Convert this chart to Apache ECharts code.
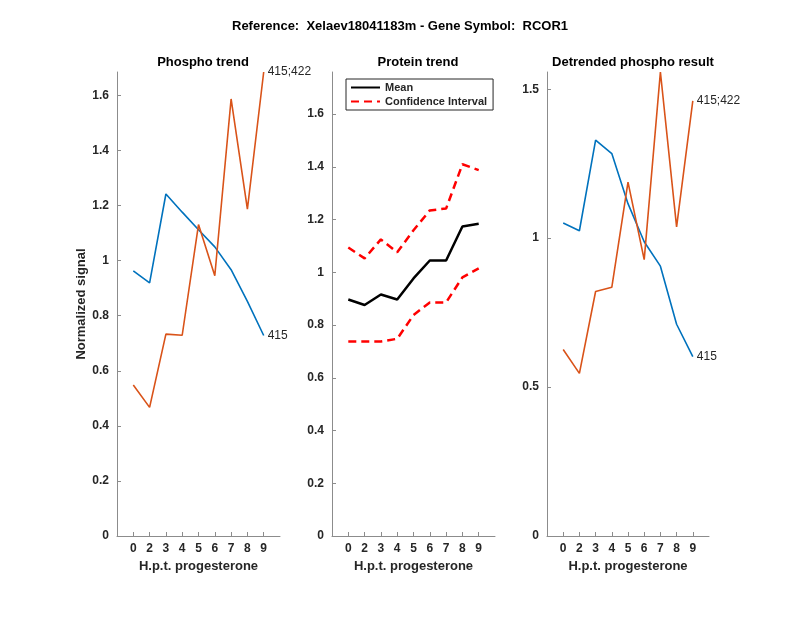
<!DOCTYPE html>
<html><head><meta charset="utf-8">
<script src="https://cdn.jsdelivr.net/npm/echarts@6/dist/echarts.min.js"></script>
<style>html,body{margin:0;padding:0;background:#fff}#c{width:800px;height:618px}</style>
</head><body><div id="c"></div>
<script>
const hours = ['0','2','3','4','5','6','7','8','9'];
const phosphoA = [0.963,0.919,1.242,1.176,1.112,1.050,0.967,0.852,0.728];   // 415
const phosphoB = [0.548,0.467,0.733,0.729,1.131,0.945,1.587,1.187,1.685];   // 415;422
const proteinMean = [0.897,0.876,0.916,0.897,0.977,1.045,1.045,1.174,1.184];
const proteinUpper = [1.094,1.053,1.125,1.076,1.160,1.235,1.242,1.410,1.388];
const proteinLower = [0.738,0.738,0.738,0.748,0.838,0.886,0.886,0.981,1.015];
const detrendA = [1.051,1.025,1.329,1.284,1.116,0.988,0.906,0.711,0.602];    // 415
const detrendB = [0.626,0.546,0.821,0.835,1.188,0.928,1.558,1.038,1.461];   // 415;422
const labelA = '415', labelB = '415;422';

const blue = '#0072BD', orange = '#D95319', txt = '#262626', axc = '#8c8c8c';
const pos = hours.map((h,i)=>i+1);
const toData = arr => arr.map((v,i)=>[i+1,v]);
const FF = 'Liberation Sans';

const grids = [
  {left:117, top:72, width:163, height:464},
  {left:332, top:72, width:163, height:464},
  {left:547, top:72, width:162, height:464}
];
function xAx(g){
  return {type:'value', gridIndex:g, min:0, max:10,
    name:'H.p.t. progesterone', nameLocation:'middle', nameGap:23,
    nameTextStyle:{fontWeight:'bold', fontSize:13, color:txt, fontFamily:FF},
    axisLine:{lineStyle:{color:axc, width:1}},
    axisTick:{inside:true, length:4, lineStyle:{color:axc}, customValues:pos},
    axisLabel:{customValues:pos, formatter:v=>hours[Math.round(v)-1]||'', fontWeight:'bold', fontSize:12, color:txt, margin:7, fontFamily:FF},
    splitLine:{show:false}};
}
function yAx(g,max,ticks,name){
  return {type:'value', gridIndex:g, min:0, max:max,
    name:name||'', nameLocation:'middle', nameGap:19, nameRotate:90,
    nameTextStyle:{fontWeight:'bold', fontSize:13, color:txt, fontFamily:FF},
    axisLine:{show:true, lineStyle:{color:axc, width:1}},
    axisTick:{show:true, inside:true, length:4, lineStyle:{color:axc}, customValues:ticks},
    axisLabel:{customValues:ticks, fontWeight:'bold', fontSize:12, color:txt, margin:8, fontFamily:FF},
    splitLine:{show:false}};
}
const t1 = [0,0.2,0.4,0.6,0.8,1,1.2,1.4,1.6];
const t3 = [0,0.5,1,1.5];
function ln(name,g,data,color,w,extra){
  return Object.assign({type:'line', name:name, xAxisIndex:g, yAxisIndex:g, data:data, showSymbol:false, symbol:'none',
    lineStyle:{color:color, width:w}, itemStyle:{color:color}, animation:false, z:3}, extra||{});
}
const endLab = t => ({endLabel:{show:true, formatter:t, color:txt, fontSize:12, fontFamily:FF, distance:4}});

const chart = echarts.init(document.getElementById('c'), null, {renderer:'canvas'});
chart.setOption({
  backgroundColor:'#fff',
  animation:false,
  title:[
    {text:'Reference:  Xelaev18041183m - Gene Symbol:  RCOR1', left:'center', top:15, textStyle:{fontSize:13, fontWeight:'bold', color:'#000', fontFamily:FF}},
    {text:'Phospho trend', left:198, top:51, textAlign:'center', textStyle:{fontSize:13, fontWeight:'bold', color:'#000', fontFamily:FF}},
    {text:'Protein trend', left:413, top:51, textAlign:'center', textStyle:{fontSize:13, fontWeight:'bold', color:'#000', fontFamily:FF}},
    {text:'Detrended phospho result', left:628, top:51, textAlign:'center', textStyle:{fontSize:13, fontWeight:'bold', color:'#000', fontFamily:FF}}
  ],
  legend:{data:['Mean','Confidence Interval'], orient:'vertical', left:346, top:79, padding:[3,6,3,4], itemGap:3, itemWidth:29, itemHeight:10,
    itemStyle:{opacity:0},
    borderColor:'#262626', borderWidth:1, backgroundColor:'#fff',
    textStyle:{fontSize:11, fontWeight:'bold', color:txt, fontFamily:FF}},
  grid:grids,
  xAxis:[xAx(0),xAx(1),xAx(2)],
  yAxis:[yAx(0,1.685,t1,'Normalized signal'), yAx(1,1.76,t1), yAx(2,1.558,t3)],
  series:[
    ln('a',0,toData(phosphoA),blue,1.6,endLab(labelA)),
    ln('b',0,toData(phosphoB),orange,1.6,endLab(labelB)),
    ln('Confidence Interval',1,toData(proteinUpper),'#ff0000',2.5,{lineStyle:{color:'#ff0000',width:2.5,type:[8,5]}}),
    ln('Confidence Interval',1,toData(proteinLower),'#ff0000',2.5,{lineStyle:{color:'#ff0000',width:2.5,type:[8,5]}}),
    ln('Mean',1,toData(proteinMean),'#000',2.5),
    ln('c',2,toData(detrendA),blue,1.6,endLab(labelA)),
    ln('d',2,toData(detrendB),orange,1.6,endLab(labelB))
  ]
});
</script></body></html>
